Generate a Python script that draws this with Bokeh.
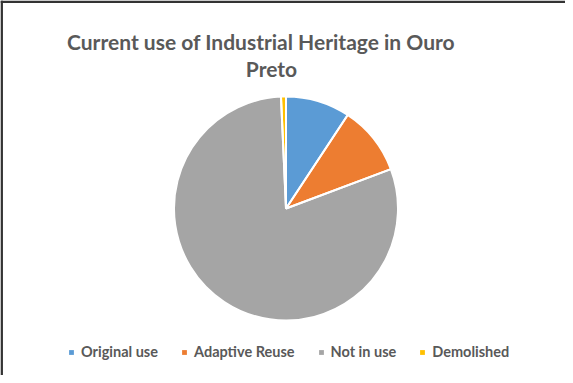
import math
from bokeh.plotting import figure
from bokeh.models import Range1d, Legend, LegendItem, ColumnDataSource, Span, Label
from bokeh.embed import file_html
from bokeh.resources import INLINE

title_lines = ["Current use of Industrial Heritage in Ouro", "Preto"]
categories = ["Original use", "Adaptive Reuse", "Not in use", "Demolished"]
counts = [13, 14, 112, 1]
colors = ["#5B9BD5", "#ED7D31", "#A5A5A5", "#FFC000"]

W, H = 565, 375
p = figure(width=W, height=H, output_backend="svg", toolbar_location=None,
           x_range=Range1d(0, W), y_range=Range1d(0, H),
           min_border=0, outline_line_color=None)
p.axis.visible = False
p.grid.visible = False
p.background_fill_color = "white"
p.border_fill_color = "white"

total = sum(counts)
starts, ends = [], []
cum = 0
for c in counts:
    starts.append(math.pi / 2 - 2 * math.pi * cum / total)
    cum += c
    ends.append(math.pi / 2 - 2 * math.pi * cum / total)

src = ColumnDataSource(dict(cat=categories, start=starts, end=ends, color=colors))
cx, cy, r = 285.5, 167, 112
w = p.wedge(x=cx, y=cy, radius=r, radius_units="screen", start_angle="start", end_angle="end",
            direction="clock", fill_color="color", line_color=None, source=src)
p.wedge(x=cx, y=cy, radius=r, radius_units="screen", start_angle="start", end_angle="end",
        direction="clock", fill_color=None, line_color="white", line_width=2, source=src)

items = [LegendItem(label=cat, renderers=[w], index=i) for i, cat in enumerate(categories)]
legend = Legend(items=items, orientation="horizontal", location=(68, 15),
                glyph_width=6, glyph_height=6, label_height=14, label_standoff=7, spacing=23,
                padding=0, margin=0, border_line_color=None, background_fill_alpha=0,
                label_text_font="Lato", label_text_font_size="14.5px", label_text_color="#595959",
                label_text_font_style="bold")
p.add_layout(legend, "center")

p.add_layout(Label(x=268.5 - 8, y=383 - 49, text=title_lines[0], text_align="center",
                   text_baseline="alphabetic", text_font="Lato", text_font_size="21px",
                   text_font_style="bold", text_color="#595959"))
p.add_layout(Label(x=279 - 8, y=383 - 76, text=title_lines[1], text_align="center",
                   text_baseline="alphabetic", text_font="Lato", text_font_size="21px",
                   text_font_style="bold", text_color="#595959"))

p.add_layout(Span(location=1.2, dimension="height", line_color="#333333", line_width=2.5))
p.add_layout(Span(location=H - 1.2, dimension="width", line_color="#333333", line_width=2.5))

open("out.html", "w").write(file_html(p, INLINE))
